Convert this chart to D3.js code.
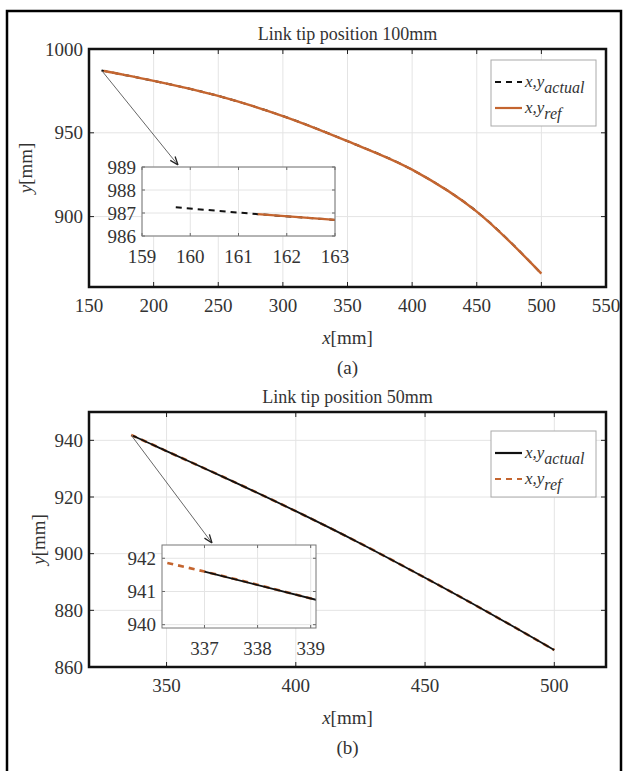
<!DOCTYPE html>
<html>
<head>
<meta charset="utf-8">
<script src="https://cdn.jsdelivr.net/npm/d3@7"></script>
<style>
  body { margin: 0; background: #fff; }
  text { font-family: "Liberation Serif", "Times New Roman", serif; fill: #333; }
</style>
</head>
<body>
<svg id="chart" width="627" height="771"></svg>
<script>
// (a) link tip position 100mm
const a_actual_x = [159.7, 161.4, 163, 200, 250, 300, 350, 400, 450, 500];
const a_actual_y = [987.25, 986.95, 986.7, 981, 972, 960, 945, 928, 903, 866];
const a_ref_x = [161.4, 163, 200, 250, 300, 350, 400, 450, 500];
const a_ref_y = [986.95, 986.7, 981, 972, 960, 945, 928, 903, 866];
const a_x_ticks = [150, 200, 250, 300, 350, 400, 450, 500, 550];
const a_y_ticks = [900, 950, 1000];
const a_inset_x_ticks = [159, 160, 161, 162, 163];
const a_inset_y_ticks = [986, 987, 988, 989];

// (b) link tip position 50mm
const b_actual_x = [337, 339.1, 350, 375, 400, 425, 450, 475, 500];
const b_actual_y = [941.6, 940.75, 936.2, 925.8, 915, 903.6, 891.5, 879, 866];
const b_ref_x = [336.3, 337, 339.1, 350, 375, 400, 425, 450, 475, 500];
const b_ref_y = [941.86, 941.6, 940.75, 936.2, 925.8, 915, 903.6, 891.5, 879, 866];
const b_x_ticks = [350, 400, 450, 500];
const b_y_ticks = [860, 880, 900, 920, 940];
const b_inset_x_ticks = [337, 338, 339];
const b_inset_y_ticks = [940, 941, 942];

const orange = '#c4652f';
const svg = d3.select('#chart');

svg.append('rect').attr('x', 7).attr('y', 11).attr('width', 614).attr('height', 790)
  .attr('fill', 'none').attr('stroke', '#000').attr('stroke-width', 2.5);

let clipId = 0;
function toPts(xs, ys) { return xs.map((x, i) => [x, ys[i]]); }

function drawAxes(g, x, y, xt, yt, opt) {
  const [x0, x1] = x.range(), [y1, y0] = y.range();
  const clip = 'clip' + (clipId++);
  g.append('clipPath').attr('id', clip).append('rect')
    .attr('x', x0).attr('y', y0).attr('width', x1 - x0).attr('height', y1 - y0);
  g.append('rect').attr('x', x0).attr('y', y0).attr('width', x1 - x0).attr('height', y1 - y0).attr('fill', '#fff');
  // grid
  g.selectAll(null).data(xt).enter().append('line')
    .attr('x1', d => x(d)).attr('x2', d => x(d)).attr('y1', y0).attr('y2', y1)
    .attr('stroke', '#e4e4e4').attr('stroke-width', 1);
  g.selectAll(null).data(yt).enter().append('line')
    .attr('y1', d => y(d)).attr('y2', d => y(d)).attr('x1', x0).attr('x2', x1)
    .attr('stroke', '#e4e4e4').attr('stroke-width', 1);
  // inner ticks, all four sides
  const tl = opt.tick;
  g.selectAll(null).data(xt).enter().append('path')
    .attr('d', d => `M${x(d)},${y1}v${-tl}M${x(d)},${y0}v${tl}`)
    .attr('stroke', opt.tickColor).attr('stroke-width', 1);
  g.selectAll(null).data(yt).enter().append('path')
    .attr('d', d => `M${x0},${y(d)}h${tl}M${x1},${y(d)}h${-tl}`)
    .attr('stroke', opt.tickColor).attr('stroke-width', 1);
  // tick labels
  g.selectAll(null).data(xt).enter().append('text')
    .attr('x', d => x(d)).attr('y', y1 + opt.xLabelGap).attr('text-anchor', 'middle')
    .attr('font-size', opt.fs).text(d => d);
  g.selectAll(null).data(yt).enter().append('text')
    .attr('x', x0 - opt.yLabelGap).attr('y', d => y(d)).attr('dy', '0.35em').attr('text-anchor', 'end')
    .attr('font-size', opt.fs).text(d => d);
  return { clip, x0, x1, y0, y1 };
}

function drawBox(g, b, color, w) {
  g.append('rect').attr('x', b.x0).attr('y', b.y0).attr('width', b.x1 - b.x0).attr('height', b.y1 - b.y0)
    .attr('fill', 'none').attr('stroke', color).attr('stroke-width', w);
}

function drawSeries(g, x, y, series, clip) {
  const line = d3.line().x(d => x(d[0])).y(d => y(d[1])).curve(d3.curveMonotoneX);
  series.forEach(s => {
    g.append('path').datum(s.pts).attr('d', line).attr('fill', 'none')
      .attr('stroke', s.color).attr('stroke-width', s.w)
      .attr('stroke-dasharray', s.dash || null)
      .attr('clip-path', `url(#${clip})`);
  });
}

function panel(p) {
  const g = svg.append('g');
  const x = d3.scaleLinear().domain(p.xd).range([p.left, p.right]);
  const y = d3.scaleLinear().domain(p.yd).range([p.bottom, p.top]);
  const b = drawAxes(g, x, y, p.xt, p.yt, { tick: 5, tickColor: '#222', fs: 19, xLabelGap: 25, yLabelGap: 6 });
  drawSeries(g, x, y, p.series, b.clip);
  drawBox(g, b, '#111', 2.5);

  // title and labels
  const cx = (p.left + p.right) / 2;
  g.append('text').attr('x', cx).attr('y', p.top - 9).attr('text-anchor', 'middle')
    .attr('font-size', 18).text(p.title);
  const xl = g.append('text').attr('x', cx).attr('y', p.bottom + 57)
    .attr('text-anchor', 'middle').attr('font-size', 19);
  xl.append('tspan').attr('font-style', 'italic').text('x');
  xl.append('tspan').text('[mm]');
  const yl = g.append('text').attr('transform', `translate(${p.yLabelX},${(p.top + p.bottom) / 2}) rotate(-90)`)
    .attr('text-anchor', 'middle').attr('font-size', 19);
  yl.append('tspan').attr('font-style', 'italic').text('y');
  yl.append('tspan').text('[mm]');
  g.append('text').attr('x', cx).attr('y', p.bottom + 87)
    .attr('text-anchor', 'middle').attr('font-size', 19).text(p.tag);

  // legend
  const L = p.legend;
  g.append('rect').attr('x', L.x).attr('y', L.y).attr('width', L.w).attr('height', L.h)
    .attr('fill', '#fff').attr('stroke', '#aaa').attr('stroke-width', 1);
  L.items.forEach((it, i) => {
    const yy = L.y + 27 + i * 26;
    g.append('line').attr('x1', L.x + 4).attr('x2', L.x + 31).attr('y1', yy - 5).attr('y2', yy - 5)
      .attr('stroke', it.color).attr('stroke-width', 2.2).attr('stroke-dasharray', it.dash || null);
    const txt = g.append('text').attr('x', L.x + 34).attr('y', yy).attr('font-size', 17).attr('font-style', 'italic');
    txt.append('tspan').text('x,y');
    txt.append('tspan').attr('dy', 6).attr('font-size', 16).text(it.sub);
  });

  // inset
  const I = p.inset;
  const ix = d3.scaleLinear().domain(I.xd).range([I.left, I.right]);
  const iy = d3.scaleLinear().domain(I.yd).range([I.bottom, I.top]);
  const ib = drawAxes(g, ix, iy, I.xt, I.yt, { tick: 3, tickColor: '#666', fs: 19, xLabelGap: 27, yLabelGap: 6 });
  drawSeries(g, ix, iy, p.series, ib.clip);
  drawBox(g, ib, '#777', 1);

  // arrow from start of curve to inset
  const s = p.series[0].pts[0];
  const ax0 = x(s[0]), ay0 = y(s[1]);
  const ax1 = I.arrowX, ay1 = I.top - 2;
  const ang = Math.atan2(ay1 - ay0, ax1 - ax0);
  g.append('line').attr('x1', ax0).attr('y1', ay0).attr('x2', ax1).attr('y2', ay1)
    .attr('stroke', '#555').attr('stroke-width', 0.9);
  const h = 9, wdt = 0.35;
  g.append('path')
    .attr('d', `M${ax1},${ay1}L${ax1 - h * Math.cos(ang - wdt)},${ay1 - h * Math.sin(ang - wdt)}` +
               `M${ax1},${ay1}L${ax1 - h * Math.cos(ang + wdt)},${ay1 - h * Math.sin(ang + wdt)}`)
    .attr('stroke', '#222').attr('stroke-width', 1.3).attr('fill', 'none');
}

panel({
  title: 'Link tip position 100mm', tag: '(a)',
  xd: [150, 550], yd: [858, 1000], xt: a_x_ticks, yt: a_y_ticks,
  left: 89, right: 606, top: 49, bottom: 287, yLabelX: 32,
  series: [
    { pts: toPts(a_actual_x, a_actual_y), color: '#111', w: 2, dash: '6,5' },
    { pts: toPts(a_ref_x, a_ref_y), color: orange, w: 2.4 }
  ],
  legend: { x: 491, y: 60, w: 105, h: 66, items: [
    { sub: 'actual', color: '#111', dash: '6,5' },
    { sub: 'ref', color: orange }
  ] },
  inset: { xd: [159, 163], yd: [986, 989], xt: a_inset_x_ticks, yt: a_inset_y_ticks,
    left: 142, right: 335, top: 167, bottom: 236, arrowX: 178 }
});

panel({
  title: 'Link tip position 50mm', tag: '(b)',
  xd: [320, 520], yd: [860, 950], xt: b_x_ticks, yt: b_y_ticks,
  left: 89, right: 606, top: 412, bottom: 667, yLabelX: 45,
  series: [
    { pts: toPts(b_ref_x, b_ref_y), color: orange, w: 2.6, dash: '6,5' },
    { pts: toPts(b_actual_x, b_actual_y), color: '#111', w: 1.8 }
  ],
  legend: { x: 491, y: 431, w: 105, h: 66, items: [
    { sub: 'actual', color: '#111' },
    { sub: 'ref', color: orange, dash: '6,5' }
  ] },
  inset: { xd: [336.2, 339.1], yd: [939.9, 942.4], xt: b_inset_x_ticks, yt: b_inset_y_ticks,
    left: 162, right: 316, top: 545, bottom: 628, arrowX: 212 }
});
</script>
</body>
</html>
